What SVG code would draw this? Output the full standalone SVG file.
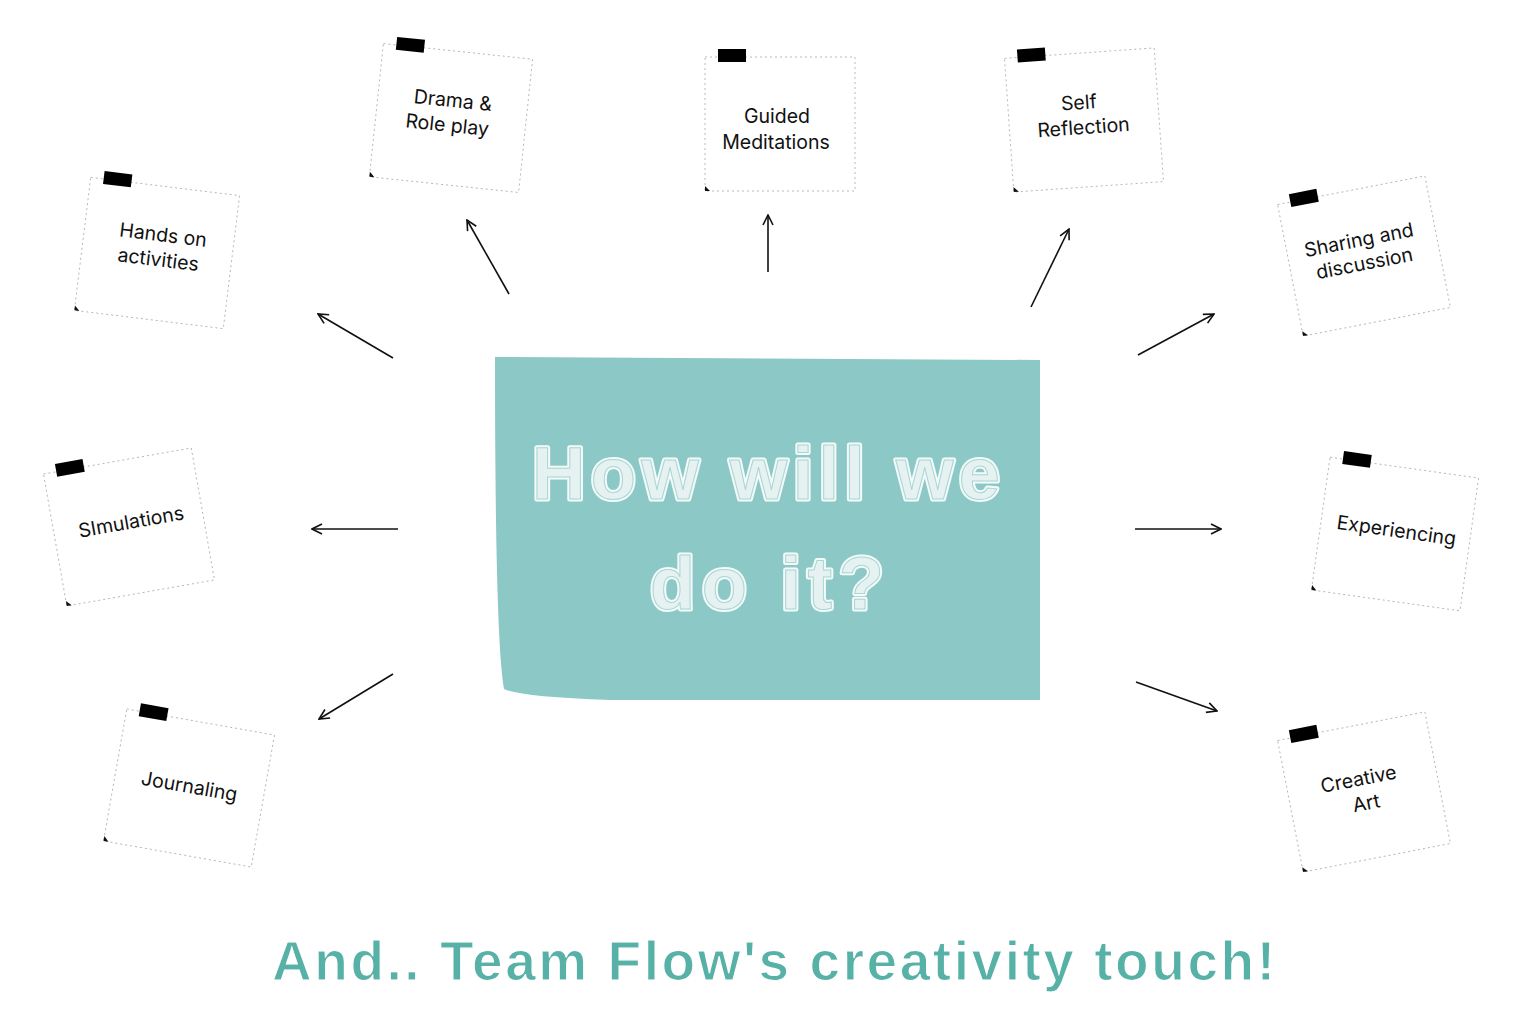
<svg xmlns="http://www.w3.org/2000/svg" width="1530" height="1012" viewBox="0 0 1530 1012">
<defs>
<style>
.paper{fill:#fff;stroke:#a8a8a8;stroke-width:0.8;stroke-dasharray:2 3}
.tape{fill:#000}
.corner{fill:#111}
.lbl{font-family:Inter,"Liberation Sans",sans-serif;font-size:19.5px;fill:#111;text-anchor:middle}
.conn{stroke:#111;stroke-width:1.6;fill:none;marker-end:url(#arr)}
.title{font-family:"Liberation Sans",Arial,sans-serif;font-weight:bold;font-size:74px}
.tOut{fill:none;stroke:#F4FAFA;stroke-width:5;stroke-linejoin:round}
.tIn{fill:#E6F2F2;stroke:#A9D6D3;stroke-width:1}
.foot{font-family:"Liberation Sans",Arial,sans-serif;font-weight:bold;font-size:55px;fill:#58B1A6;stroke:#ffffff;stroke-width:1.2}
</style>
<marker id="arr" viewBox="0 0 12 12" refX="11" refY="6" markerWidth="12" markerHeight="12" markerUnits="userSpaceOnUse" orient="auto">
<path d="M1,1 L11,6 L1,11" fill="none" stroke="#111" stroke-width="1.6"/>
</marker>
<g id="paperShape">
<rect class="paper" x="-75" y="-67" width="150" height="134"/>
<rect class="tape" x="-62" y="-75" width="28" height="13"/>
<path class="corner" d="M-75,62 L-75,67 L-70,67 Z"/>
</g>
</defs>

<rect width="1530" height="1012" fill="#fff"/>

<g id="center">
<path d="M495,357 L1040,360 L1040,700 L610,700 Q520,697 504,689 Q495,640 495,357 Z" fill="#8CC8C5"/>
<text class="title tOut" x="532" y="499" textLength="468" lengthAdjust="spacing">How will we</text>
<text class="title tIn" x="532" y="499" textLength="468" lengthAdjust="spacing">How will we</text>
<text class="title tOut" x="650" y="609" textLength="234" lengthAdjust="spacing">do it?</text>
<text class="title tIn" x="650" y="609" textLength="234" lengthAdjust="spacing">do it?</text>
</g>

<g id="connectors">
<line class="conn" x1="393" y1="358" x2="318" y2="314"/>
<line class="conn" x1="509" y1="294" x2="467" y2="220"/>
<line class="conn" x1="768" y1="272" x2="768" y2="215"/>
<line class="conn" x1="1031" y1="307" x2="1069" y2="229"/>
<line class="conn" x1="1138" y1="355" x2="1214" y2="314"/>
<line class="conn" x1="398" y1="529" x2="312" y2="529"/>
<line class="conn" x1="1135" y1="529" x2="1221" y2="529"/>
<line class="conn" x1="393" y1="674" x2="319" y2="719"/>
<line class="conn" x1="1136" y1="682" x2="1217" y2="711"/>
</g>

<g id="note-hands" transform="translate(157,253) rotate(7)">
<use href="#paperShape"/>
<text class="lbl" x="4" y="-12">Hands on</text>
<text class="lbl" x="2" y="13">activities</text>
</g>

<g id="note-drama" transform="translate(451,118) rotate(6)">
<use href="#paperShape"/>
<text class="lbl" x="0" y="-11">Drama &amp;</text>
<text class="lbl" x="-3" y="14">Role play</text>
</g>

<g id="note-guided" transform="translate(780,124)">
<use href="#paperShape"/>
<text class="lbl" x="-3" y="-1">Guided</text>
<text class="lbl" x="-4" y="25">Meditations</text>
</g>

<g id="note-self" transform="translate(1084,120) rotate(-4)">
<use href="#paperShape"/>
<text class="lbl" x="-4" y="-11">Self</text>
<text class="lbl" x="-1" y="14">Reflection</text>
</g>

<g id="note-sharing" transform="translate(1364,256) rotate(-11)">
<use href="#paperShape"/>
<text class="lbl" x="-2" y="-10">Sharing and</text>
<text class="lbl" x="-1" y="14">discussion</text>
</g>

<g id="note-simulations" transform="translate(129,527) rotate(-10)">
<use href="#paperShape"/>
<text class="lbl" x="3" y="2">SImulations</text>
</g>

<g id="note-experiencing" transform="translate(1395,534) rotate(8)">
<use href="#paperShape"/>
<text class="lbl" x="1" y="3">Experiencing</text>
</g>

<g id="note-journaling" transform="translate(189,788) rotate(10)">
<use href="#paperShape"/>
<text class="lbl" x="0" y="5">Journaling</text>
</g>

<g id="note-creative" transform="translate(1364,792) rotate(-11)">
<use href="#paperShape"/>
<text class="lbl" x="-3" y="-7">Creative</text>
<text class="lbl" x="0" y="18">Art</text>
</g>

<g id="footer">
<text class="foot" x="272" y="980" textLength="1003" lengthAdjust="spacing">And.. Team Flow's creativity touch!</text>
</g>
</svg>
